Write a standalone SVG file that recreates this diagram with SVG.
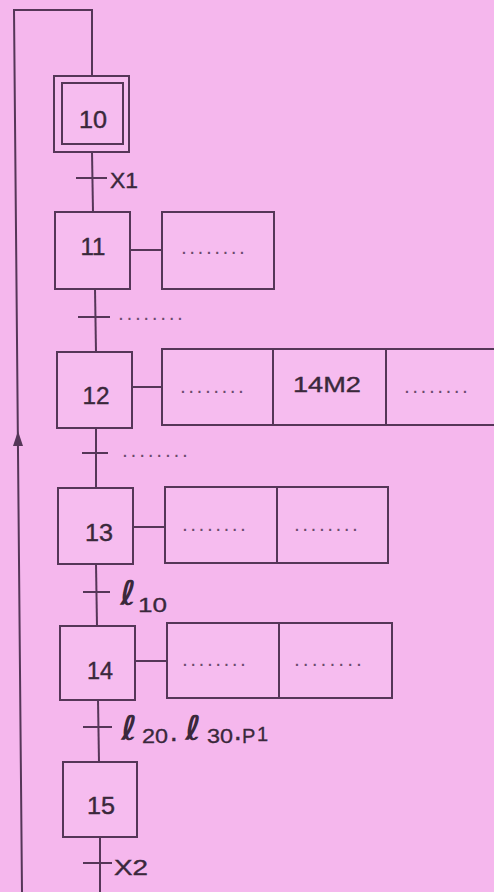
<svg xmlns="http://www.w3.org/2000/svg" width="494" height="892" viewBox="0 0 494 892">
<style>
.ln{stroke:#553658;stroke-width:2;fill:none}
.box{stroke:#553658;stroke-width:2;fill:#f6bcef}
.num{font-family:"Liberation Sans",Arial,sans-serif;font-size:23px;fill:#3a283b;stroke:#3a283b;stroke-width:0.4;text-anchor:middle}
.lab{font-family:"Liberation Sans",Arial,sans-serif;font-size:22px;fill:#3a283b;stroke:#3a283b;stroke-width:0.4}
.dots{font-family:"Liberation Sans",Arial,sans-serif;font-size:14px;font-weight:bold;fill:#6a4a6c}
.ell{font-family:"DejaVu Sans",sans-serif;font-size:34px;font-weight:bold;font-style:italic;fill:#3a283b}
.sub{font-family:"Liberation Sans",Arial,sans-serif;font-size:20px;fill:#3a283b;stroke:#3a283b;stroke-width:0.3}
</style>
<rect x="0" y="0" width="494" height="892" fill="#f5b7ed"/>
<g id="connectors">
<polyline class="ln" points="22,892 14,10 92,10 92,76"/>
<polygon points="18,431 13,446 23,446" fill="#553658"/>
<line class="ln" x1="92" y1="152" x2="93" y2="212"/>
<line class="ln" x1="95" y1="289" x2="96" y2="352"/>
<line class="ln" x1="96" y1="428" x2="96" y2="488"/>
<line class="ln" x1="96" y1="564" x2="97" y2="626"/>
<line class="ln" x1="98" y1="700" x2="99" y2="762"/>
<line class="ln" x1="100" y1="837" x2="100" y2="892"/>
<line class="ln" x1="130" y1="250" x2="162" y2="250"/>
<line class="ln" x1="132" y1="387" x2="162" y2="387"/>
<line class="ln" x1="133" y1="527" x2="165" y2="527"/>
<line class="ln" x1="135" y1="661" x2="167" y2="661"/>
</g>
<g id="t1">
<line class="ln" x1="76" y1="178" x2="107" y2="178"/>
<text class="lab" x="110" y="188" textLength="28" lengthAdjust="spacingAndGlyphs">X1</text>
</g>
<g id="t2">
<line class="ln" x1="78" y1="317" x2="110" y2="317"/>
<text class="dots" x="119" y="320" textLength="63" lengthAdjust="spacing">........</text>
</g>
<g id="t3">
<line class="ln" x1="82" y1="453" x2="108" y2="453"/>
<text class="dots" x="123" y="457" textLength="64" lengthAdjust="spacing">........</text>
</g>
<g id="t4">
<line class="ln" x1="83" y1="592" x2="110" y2="592"/>
<text class="ell" x="120" y="605">ℓ</text>
<text class="sub" x="138" y="612" textLength="29" lengthAdjust="spacingAndGlyphs">10</text>
</g>
<g id="t5">
<line class="ln" x1="83" y1="727" x2="112" y2="727"/>
<text class="ell" x="121" y="740">ℓ</text>
<text class="sub" x="142" y="743" textLength="26" lengthAdjust="spacingAndGlyphs">20</text>
<text class="sub" x="171" y="741" font-weight="bold">.</text>
<text class="ell" x="185" y="740">ℓ</text>
<text class="sub" x="207" y="743" textLength="26" lengthAdjust="spacingAndGlyphs">30</text>
<text class="sub" x="235" y="740" font-weight="bold">.</text>
<text class="sub" x="242" y="743" font-size="17">P</text>
<text class="sub" x="257" y="741" font-size="12">1</text>
</g>
<g id="t6">
<line class="ln" x1="83" y1="863" x2="112" y2="863"/>
<text class="lab" x="114" y="875" textLength="34" lengthAdjust="spacingAndGlyphs">X2</text>
</g>
<g id="step10">
<rect class="box" x="54" y="76" width="75" height="76"/>
<rect class="ln" x="62" y="83" width="61" height="61"/>
<text class="num" x="93" y="128" textLength="28" lengthAdjust="spacingAndGlyphs">10</text>
</g>
<g id="step11">
<rect class="box" x="55" y="212" width="75" height="77"/>
<text class="num" x="93" y="255" textLength="25" lengthAdjust="spacingAndGlyphs">11</text>
</g>
<g id="act11">
<rect class="box" x="162" y="212" width="112" height="77"/>
<text class="dots" x="182" y="254" textLength="62" lengthAdjust="spacing">........</text>
</g>
<g id="step12">
<rect class="box" x="57" y="352" width="75" height="76"/>
<text class="num" x="96" y="404" textLength="27" lengthAdjust="spacingAndGlyphs">12</text>
</g>
<g id="act12">
<rect class="box" x="162" y="349" width="340" height="76"/>
<line class="ln" x1="273" y1="349" x2="273" y2="425"/>
<line class="ln" x1="386" y1="349" x2="386" y2="425"/>
<text class="dots" x="181" y="393" textLength="62" lengthAdjust="spacing">........</text>
<text class="lab" x="293" y="392" textLength="68" lengthAdjust="spacingAndGlyphs">14M2</text>
<text class="dots" x="405" y="393" textLength="62" lengthAdjust="spacing">........</text>
</g>
<g id="step13">
<rect class="box" x="58" y="488" width="75" height="76"/>
<text class="num" x="99" y="541" textLength="28" lengthAdjust="spacingAndGlyphs">13</text>
</g>
<g id="act13">
<rect class="box" x="165" y="487" width="223" height="76"/>
<line class="ln" x1="277" y1="487" x2="277" y2="563"/>
<text class="dots" x="183" y="531" textLength="62" lengthAdjust="spacing">........</text>
<text class="dots" x="295" y="531" textLength="62" lengthAdjust="spacing">........</text>
</g>
<g id="step14">
<rect class="box" x="60" y="626" width="75" height="74"/>
<text class="num" x="100" y="679" textLength="26" lengthAdjust="spacingAndGlyphs">14</text>
</g>
<g id="act14">
<rect class="box" x="167" y="623" width="225" height="75"/>
<line class="ln" x1="279" y1="623" x2="279" y2="698"/>
<text class="dots" x="183" y="666" textLength="62" lengthAdjust="spacing">........</text>
<text class="dots" x="295" y="666" textLength="66" lengthAdjust="spacing">........</text>
</g>
<g id="step15">
<rect class="box" x="63" y="762" width="74" height="75"/>
<text class="num" x="101" y="814" textLength="28" lengthAdjust="spacingAndGlyphs">15</text>
</g>
</svg>
